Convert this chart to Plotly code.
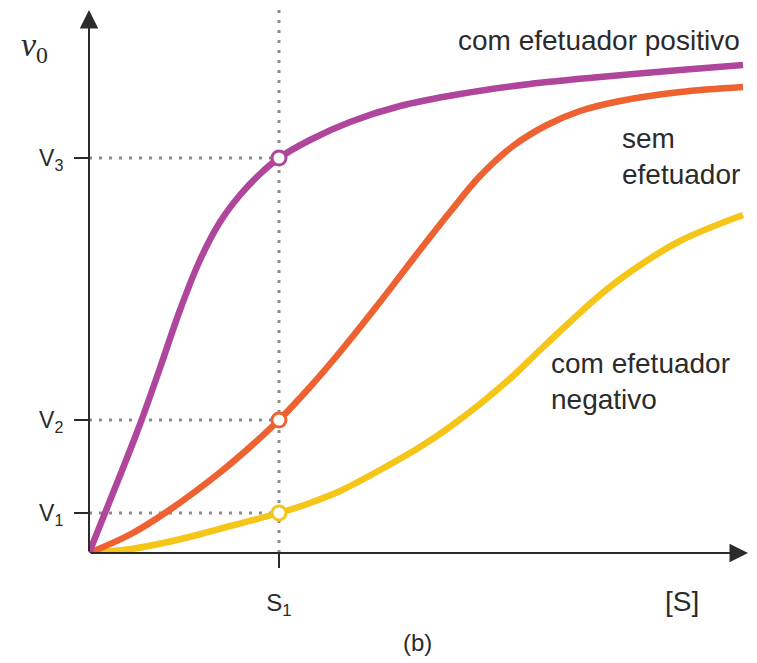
import plotly.graph_objects as go

# ---- data (arbitrary units) ----
x_pos = [0, 26, 50, 71, 91, 111, 131, 151, 171, 190, 221, 261, 311, 371, 441, 511, 591, 654]
y_pos = [0, 65, 126, 185, 243, 293, 331, 358, 379, 395, 413, 431, 447, 459, 469, 476, 483, 488]

x_sem = [0, 42, 79, 129, 161, 190, 221, 251, 291, 331, 361, 391, 424, 458, 491, 531, 591, 654]
y_sem = [0, 19, 42, 79, 106, 133, 166, 201, 251, 303, 341, 377, 407, 428, 442, 452, 461, 466]

x_neg = [0, 42, 79, 112, 145, 190, 221, 251, 291, 331, 358, 391, 424, 451, 481, 511, 541, 591, 654]
y_neg = [0, 4, 11, 19, 28, 40, 50, 62, 83, 106, 124, 149, 177, 203, 231, 258, 281, 312, 338]

S1 = 190
V_levels = [40, 133, 395]
V_labels = ["V<sub>1</sub>", "V<sub>2</sub>", "V<sub>3</sub>"]
X_MAX = 659
Y_MAX = 543

PURPLE = "#B0459C"
ORANGE = "#EE6232"
YELLOW = "#F5C518"
GREY = "#8C8C8C"
INK = "#2B2B2B"
FONT = "Liberation Sans"

fig = go.Figure()

# dotted guide lines
fig.add_trace(go.Scatter(x=[S1, S1], y=[0, Y_MAX], mode="lines",
                         line=dict(color=GREY, width=3, dash="3px,7px"),
                         hoverinfo="skip", showlegend=False))
for v in V_levels:
    fig.add_trace(go.Scatter(x=[0, S1], y=[v, v], mode="lines",
                             line=dict(color=GREY, width=3, dash="3px,7px"),
                             hoverinfo="skip", showlegend=False))

# curves
for xs, ys, col in [(x_neg, y_neg, YELLOW), (x_sem, y_sem, ORANGE), (x_pos, y_pos, PURPLE)]:
    fig.add_trace(go.Scatter(x=xs, y=ys, mode="lines",
                             line=dict(color=col, width=6.5, shape="spline", smoothing=1.0),
                             showlegend=False, cliponaxis=False))

# open circles at S1
fig.add_trace(go.Scatter(x=[S1, S1, S1], y=V_levels, mode="markers",
                         marker=dict(symbol="circle", size=14, color="white",
                                     line=dict(color=[YELLOW, ORANGE, PURPLE], width=3)),
                         showlegend=False, cliponaxis=False))

fig.update_layout(
    width=757, height=663,
    margin=dict(l=89, r=9, t=10, b=110),
    paper_bgcolor="white", plot_bgcolor="white",
    xaxis=dict(range=[0, X_MAX], showgrid=False, zeroline=False, showline=False,
               tickvals=[S1], ticktext=["S<sub>1</sub>"], ticks="outside",
               ticklen=14, tickwidth=2, tickcolor=INK, ticklabelstandoff=14,
               tickfont=dict(family=FONT, size=24, color=INK)),
    yaxis=dict(range=[0, Y_MAX], showgrid=False, zeroline=False, showline=False,
               tickvals=V_levels, ticktext=V_labels, ticks="outside",
               ticklen=14, tickwidth=2, tickcolor=INK, ticklabelstandoff=6,
               tickfont=dict(family=FONT, size=23, color=INK)),
)

# axes with arrowheads
fig.add_annotation(x=0, y=Y_MAX, ax=0, ay=0, xref="x", yref="y", axref="x", ayref="y",
                   showarrow=True, arrowhead=2, arrowwidth=2, arrowsize=1.85,
                   arrowcolor=INK, text="")
fig.add_annotation(x=X_MAX, y=0, ax=0, ay=0, xref="x", yref="y", axref="x", ayref="y",
                   showarrow=True, arrowhead=2, arrowwidth=2, arrowsize=1.85,
                   arrowcolor=INK, text="")

# labels
txt = dict(family=FONT, size=28, color=INK)
fig.add_annotation(x=653, y=513, xref="x", yref="y", text="com efetuador positivo",
                   showarrow=False, xanchor="right", yanchor="middle", font=txt)
fig.add_annotation(x=531, y=397, xref="x", yref="y", text="sem<br>efetuador",
                   showarrow=False, xanchor="left", yanchor="middle", align="left", font=txt)
fig.add_annotation(x=460, y=172, xref="x", yref="y", text="com efetuador<br>negativo",
                   showarrow=False, xanchor="left", yanchor="middle", align="left", font=txt)
fig.add_annotation(x=0.900, y=-0.090, xref="paper", yref="paper", text="[S]",
                   showarrow=False, xanchor="center", yanchor="middle", font=txt)
fig.add_annotation(x=0.498, y=-0.164, xref="paper", yref="paper", text="(b)",
                   showarrow=False, xanchor="center", yanchor="middle",
                   font=dict(family=FONT, size=24, color=INK))
fig.add_annotation(x=-0.082, y=0.932, xref="paper", yref="paper", text="<i>v</i><sub>0</sub>",
                   showarrow=False, xanchor="center", yanchor="middle",
                   font=dict(family="Liberation Serif", size=34, color=INK))

fig.write_html("out.html", config={"displayModeBar": False},
               post_script="document.body.style.margin='0px';")
